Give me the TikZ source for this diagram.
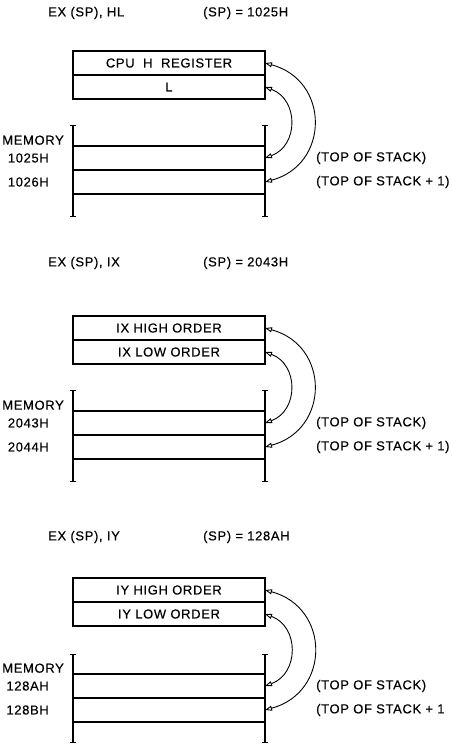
\documentclass[tikz,border=0pt]{standalone}
\usepackage{fontspec}
\setmainfont{Liberation Sans}[LetterSpace=5,FakeBold=0.4]
\usetikzlibrary{arrows.meta,positioning}

\begin{document}
\begin{tikzpicture}[
  x=1pt,y=-1pt,
  font=\fontsize{13}{15}\selectfont,
  reg/.style={draw,line width=1.6pt,minimum width=192pt,minimum height=24pt,
              inner sep=0pt,outer sep=0pt},
  cell/.style={reg},
  rail/.style={line width=1.6pt,{Bar[width=6pt,line width=1pt]}-{Bar[width=6pt,line width=1pt]}},
  swap/.style={line width=0.9pt,
               {Triangle[open,length=7pt,width=5pt]}-{Triangle[open,length=7pt,width=5pt]}},
  lbl/.style={inner sep=0pt},
  outer/.style={bend left=75,looseness=1.45},
  inner/.style={bend left=70,looseness=1.3}
]
\useasboundingbox (0,0) rectangle (452,745);

\node[lbl,anchor=west] (op1) at (48,13) {EX (SP), HL};
\node[lbl,anchor=west] (sp1) at (203,13) {(SP) = 1025H};
\node[reg] (hi1) at (169,63) {CPU\ \ H\ \ REGISTER};
\node[reg,below=0pt of hi1] (lo1) {L};
\node[cell,below=47pt of lo1] (ma1) {};
\node[cell,below=0pt of ma1] (mb1) {};
\draw[rail] ([yshift=21pt]ma1.north west) -- ([yshift=-23pt]mb1.south west);
\draw[rail] ([yshift=21pt]ma1.north east) -- ([yshift=-23pt]mb1.south east);
\node[lbl,above left=1pt and 9pt of ma1.north west] (mem1) {MEMORY};
\node[lbl,left=24pt of ma1] (ad1a) {1025H};
\node[lbl,left=24pt of mb1] (ad1b) {1026H};
\node[lbl,right=51pt of ma1] (tos1a) {(TOP OF STACK)};
\node[lbl,right=51pt of mb1] (tos1b) {(TOP OF STACK + 1)};
\draw[swap] (hi1.east) to[outer] (mb1.east);
\draw[swap] (lo1.east) to[inner] (ma1.east);

\node[lbl,anchor=west] (op2) at (48,263) {EX (SP), IX};
\node[lbl,anchor=west] (sp2) at (203,263) {(SP) = 2043H};
\node[reg] (hi2) at (169,328) {IX HIGH ORDER};
\node[reg,below=0pt of hi2] (lo2) {IX LOW ORDER};
\node[cell,below=47pt of lo2] (ma2) {};
\node[cell,below=0pt of ma2] (mb2) {};
\draw[rail] ([yshift=21pt]ma2.north west) -- ([yshift=-23pt]mb2.south west);
\draw[rail] ([yshift=21pt]ma2.north east) -- ([yshift=-23pt]mb2.south east);
\node[lbl,above left=1pt and 9pt of ma2.north west] (mem2) {MEMORY};
\node[lbl,left=24pt of ma2] (ad2a) {2043H};
\node[lbl,left=24pt of mb2] (ad2b) {2044H};
\node[lbl,right=51pt of ma2] (tos2a) {(TOP OF STACK)};
\node[lbl,right=51pt of mb2] (tos2b) {(TOP OF STACK + 1)};
\draw[swap] (hi2.east) to[outer] (mb2.east);
\draw[swap] (lo2.east) to[inner] (ma2.east);

\node[lbl,anchor=west] (op3) at (48,537) {EX (SP), IY};
\node[lbl,anchor=west] (sp3) at (203,537) {(SP) = 128AH};
\node[reg] (hi3) at (169,590) {IY HIGH ORDER};
\node[reg,below=0pt of hi3] (lo3) {IY LOW ORDER};
\node[cell,below=48pt of lo3] (ma3) {};
\node[cell,below=0pt of ma3] (mb3) {};
\draw[rail] ([yshift=20pt]ma3.north west) -- ([yshift=-21pt]mb3.south west);
\draw[rail] ([yshift=20pt]ma3.north east) -- ([yshift=-21pt]mb3.south east);
\node[lbl,above left=1pt and 9pt of ma3.north west] (mem3) {MEMORY};
\node[lbl,left=24pt of ma3] (ad3a) {128AH};
\node[lbl,left=24pt of mb3] (ad3b) {128BH};
\node[lbl,right=51pt of ma3] (tos3a) {(TOP OF STACK)};
\node[lbl,right=51pt of mb3] (tos3b) {(TOP OF STACK + 1};
\draw[swap] (hi3.east) to[outer] (mb3.east);
\draw[swap] (lo3.east) to[inner] (ma3.east);
\end{tikzpicture}
\end{document}
